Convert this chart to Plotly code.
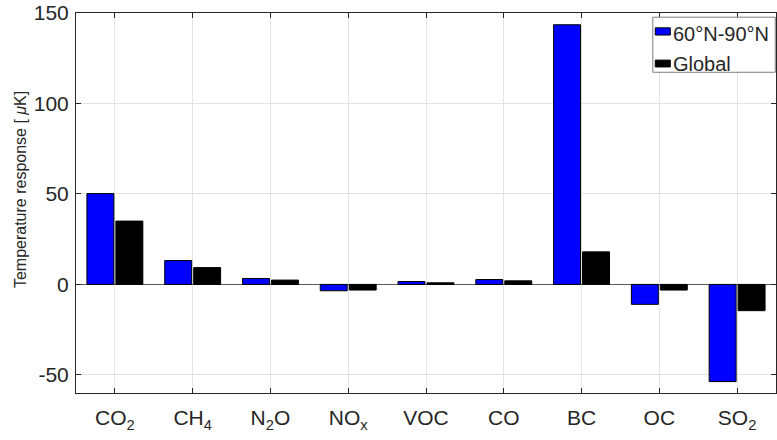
import plotly.graph_objects as go

# Species on the x axis and the temperature response of each (micro-kelvin)
species = ["CO<sub>2</sub>", "CH<sub>4</sub>", "N<sub>2</sub>O", "NO<sub>x</sub>",
           "VOC", "CO", "BC", "OC", "SO<sub>2</sub>"]
arctic_resp = [50.2, 13.2, 3.3, -3.5, 1.6, 2.7, 143.5, -11.0, -53.7]
global_resp = [35.0, 9.3, 2.4, -3.1, 0.9, 2.0, 18.0, -3.1, -14.5]
series_names = ["60°N-90°N", "Global"]
series_colors = ["#0000FF", "#000000"]
y_ticks = [-50, 0, 50, 100, 150]
y_ticklabels = ["-50", "0", "50", "100", "150"]

positions = list(range(1, len(species) + 1))
font_family = "Liberation Sans, Arial, Helvetica, sans-serif"
axis_color = "#262626"

fig = go.Figure()
for name, vals, col in zip(series_names, [arctic_resp, global_resp], series_colors):
    fig.add_trace(go.Bar(
        x=positions, y=vals, name=name,
        marker=dict(color=col, line=dict(color="#000000", width=1)),
        showlegend=False,
    ))

fig.update_layout(
    width=777, height=440,
    margin=dict(l=76, r=1, t=13, b=47),
    paper_bgcolor="white", plot_bgcolor="white",
    barmode="group", bargap=0.255, bargroupgap=0.07,
    font=dict(family=font_family, color=axis_color),
)

fig.update_xaxes(
    range=[0.5, len(species) + 0.5],
    tickvals=positions, ticktext=species,
    tickfont=dict(size=21, color=axis_color),
    ticks="inside", ticklen=5, tickcolor=axis_color,
    showline=True, linecolor=axis_color, linewidth=1, mirror="ticks",
    showgrid=True, gridcolor="#e3e3e3", gridwidth=1,
    zeroline=False, ticklabelstandoff=6,
)
fig.update_yaxes(
    range=[-60, 150],
    tickvals=y_ticks, ticktext=y_ticklabels,
    tickfont=dict(size=21, color=axis_color),
    ticks="inside", ticklen=5, tickcolor=axis_color,
    showline=True, linecolor=axis_color, linewidth=1, mirror="ticks",
    showgrid=True, gridcolor="#e3e3e3", gridwidth=1,
    zeroline=True, zerolinecolor="#5a5a5a", zerolinewidth=1,
    ticklabelstandoff=2,
)

# y-axis label, placed as a rotated annotation
fig.add_annotation(xref="paper", yref="paper", x=-0.080, y=0.534,
                   xanchor="center", yanchor="middle", showarrow=False,
                   textangle=-90, text="Temperature response [ <i>μ</i>K]",
                   font=dict(size=16, color=axis_color))

# Legend box drawn in the top-right corner of the axes
box_x0, box_x1 = 0.824, 0.999
box_y0, box_y1 = 0.844, 0.989
fig.add_shape(type="rect", xref="paper", yref="paper",
              x0=box_x0, x1=box_x1, y0=box_y0, y1=box_y1,
              line=dict(color="#7f7f7f", width=1), fillcolor="white", layer="above")
row_y = [0.944, 0.867]
sw_y = [(0.942, 0.961), (0.858, 0.876)]
for name, col, (sy0, sy1), ty in zip(series_names, series_colors, sw_y, row_y):
    fig.add_shape(type="rect", xref="paper", yref="paper",
                  x0=0.8275, x1=0.849, y0=sy0, y1=sy1,
                  line=dict(color="#000000", width=1), fillcolor=col, layer="above")
    fig.add_annotation(xref="paper", yref="paper", x=0.850, y=ty,
                       xanchor="left", yanchor="middle", showarrow=False,
                       text=name, font=dict(size=20, color=axis_color))

fig.write_html("out.html")
